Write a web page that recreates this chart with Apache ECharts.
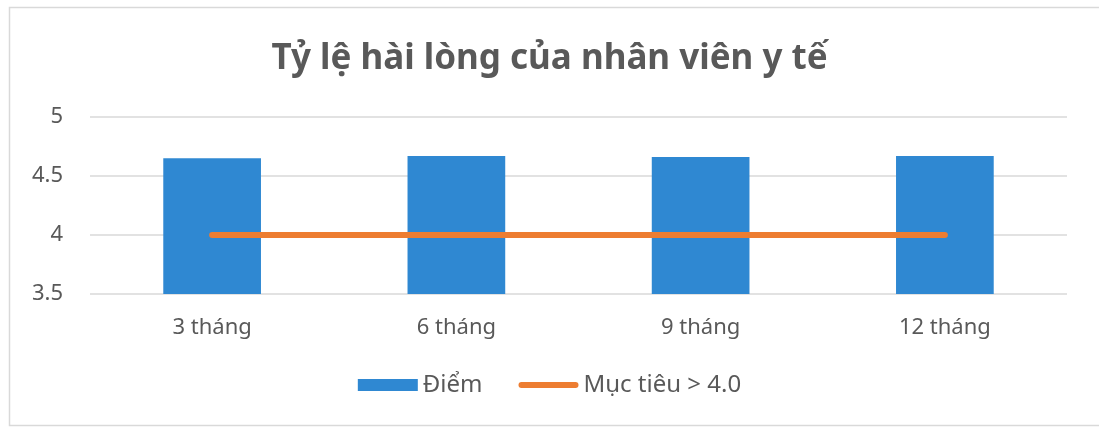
<!DOCTYPE html>
<html>
<head>
<meta charset="utf-8">
<script src="https://cdn.jsdelivr.net/npm/echarts@6/dist/echarts.min.js"></script>
<style>
html,body{margin:0;padding:0;background:#fff;}
#main{width:1099px;height:428px;}
</style>
</head>
<body>
<div id="main"></div>
<script>
var categories = ['3 tháng', '6 tháng', '9 tháng', '12 tháng'];
var diemValues = [4.65, 4.67, 4.66, 4.67];
var mucTieuValues = [4.0, 4.0, 4.0, 4.0];
var yTicks = [3.5, 4, 4.5, 5];

var myChart = echarts.init(document.getElementById('main'));
var font = '"Noto Sans", "Open Sans", sans-serif';
var option = {
    backgroundColor: '#ffffff',
    // khung viền nhạt quanh biểu đồ
    graphic: [{
        type: 'rect',
        left: 7,
        top: 5,
        shape: {width: 1100, height: 418},
        style: {fill: 'none', stroke: '#d9d9d9', lineWidth: 1.5},
        silent: true
    }],
    title: {
        text: 'Tỷ lệ hài lòng của nhân viên y tế',
        left: 'center',
        top: 37,
        textStyle: {fontFamily: font, fontSize: 35, fontWeight: 'bold', color: '#595959'}
    },
    legend: {
        bottom: 26,
        left: 'center',
        itemGap: 36,
        itemWidth: 60,
        itemHeight: 12,
        textStyle: {fontFamily: font, fontSize: 24, color: '#595959'},
        data: [
            {name: 'Điểm', icon: 'rect'},
            {name: 'Mục tiêu > 4.0', icon: 'path://M3,0 L57,0 A3,3 0 0 1 57,6 L3,6 A3,3 0 0 1 3,0 Z'}
        ]
    },
    grid: {left: 90, right: 32, top: 117, bottom: 134},
    xAxis: {
        type: 'category',
        data: categories,
        axisLine: {show: false},
        axisTick: {show: false},
        axisLabel: {fontFamily: font, fontSize: 22, color: '#595959', margin: 23}
    },
    yAxis: {
        type: 'value',
        min: yTicks[0],
        max: yTicks[yTicks.length - 1],
        interval: 0.5,
        axisLine: {show: false},
        axisTick: {show: false},
        axisLabel: {fontFamily: font, fontSize: 22, color: '#595959', margin: 27},
        splitLine: {lineStyle: {color: '#d9d9d9', width: 1.5}}
    },
    series: [
        {
            name: 'Điểm',
            type: 'bar',
            data: diemValues,
            barWidth: '40%',
            itemStyle: {color: '#2f88d2'}
        },
        {
            name: 'Mục tiêu > 4.0',
            type: 'line',
            data: mucTieuValues,
            symbol: 'none',
            itemStyle: {color: '#ed7d31'},
            lineStyle: {color: '#ed7d31', width: 6, cap: 'round'}
        }
    ]
};
myChart.setOption(option);
</script>
</body>
</html>
